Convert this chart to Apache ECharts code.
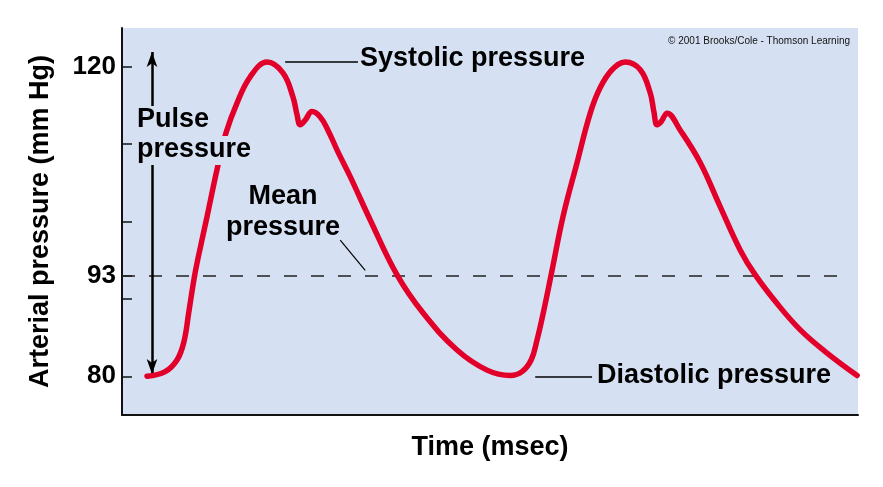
<!DOCTYPE html>
<html>
<head>
<meta charset="utf-8">
<script src="https://cdn.jsdelivr.net/npm/echarts@6/dist/echarts.min.js"></script>
<style>
html,body{margin:0;padding:0;background:#fff;}
#chart{width:883px;height:487px;}
</style>
</head>
<body>
<div id="chart"></div>
<script>
// Time (msec) and arterial pressure (mm Hg)
var timeMs = [0, 40, 66, 81, 92, 105, 119, 132, 154, 174, 198, 227, 264, 299, 321, 330, 337, 348, 363, 381, 398, 420, 447, 491, 550, 607, 682, 748, 799,
              825, 845, 858, 871, 889, 915, 946, 975, 997, 1023, 1052, 1085, 1107, 1115, 1122, 1131, 1144, 1173, 1217, 1261, 1305, 1338, 1386, 1437, 1496, 1562];
var pressure = [80.0, 80.6, 82.1, 84.4, 88.3, 93.1, 97.1, 100.6, 106.7, 111.5, 115.3, 118.7, 120.6, 119.2, 116.1, 113.8, 112.5, 113.1, 114.2, 113.5, 111.8, 109.0, 105.8, 100.2, 93.1, 88.2, 83.4, 80.8, 80.1,
                80.6, 82.1, 84.7, 88.0, 93.1, 100.6, 107.6, 114.0, 117.3, 119.6, 120.6, 119.6, 116.6, 114.2, 112.5, 112.9, 114.0, 111.8, 107.6, 101.9, 96.3, 93.1, 89.4, 86.0, 83.0, 80.1];
var yTicks = [80, 90, 93, 100, 110, 120];
var yLabels = [80, 93, 120];
var meanPressure = 93;
var systolic = 120;
var diastolic = 80;

var FONT = '"Liberation Sans", Arial, Helvetica, sans-serif';
var BG = '#d5e1f2';
var curve = timeMs.map(function (t, i) { return [t, pressure[i]]; });

var chart = echarts.init(document.getElementById('chart'), null, {renderer: 'canvas'});
var option = {
  backgroundColor: '#ffffff',
  animation: false,
  grid: {left: 122, right: 25, top: 28, bottom: 72, show: true, backgroundColor: BG, borderWidth: 0},
  xAxis: {
    type: 'value', min: -55, max: 1564,
    name: 'Time (msec)', nameLocation: 'middle', nameGap: 19,
    nameTextStyle: {fontFamily: FONT, fontWeight: 'bold', fontSize: 27, color: '#000'},
    axisLine: {show: true, onZero: false, lineStyle: {color: '#111', width: 2}},
    axisTick: {show: false}, axisLabel: {show: false}, splitLine: {show: false}
  },
  yAxis: {
    type: 'value', min: 75, max: 125,
    name: 'Arterial pressure (mm Hg)', nameLocation: 'middle', nameGap: 68, nameRotate: 90,
    nameTextStyle: {fontFamily: FONT, fontWeight: 'bold', fontSize: 27, color: '#000'},
    axisLine: {show: true, onZero: false, lineStyle: {color: '#111', width: 2}},
    axisTick: {show: true, inside: true, length: 10, customValues: yTicks, lineStyle: {color: '#111', width: 1.5}},
    axisLabel: {show: true, customValues: yLabels, margin: 6, fontFamily: FONT, fontWeight: 'bold', fontSize: 26, color: '#000'},
    splitLine: {show: false}
  },
  series: [{
    type: 'line',
    data: curve,
    smooth: 0.4,
    showSymbol: false,
    symbol: 'none',
    z: 3,
    lineStyle: {color: '#e2002b', width: 5.5, cap: 'round', join: 'round'},
    markLine: {
      silent: true,
      symbol: 'none',
      label: {show: false},
      z: 2,
      data: [
        [{coord: [-55, meanPressure], lineStyle: {type: [13, 14], color: '#222', width: 1.5}},
         {coord: [1547, meanPressure]}],
        [{coord: [11, diastolic + 0.3], symbol: 'arrow', symbolSize: [8, 15], lineStyle: {type: 'solid', color: '#000', width: 2.5}},
         {coord: [11, systolic + 1.9], symbol: 'arrow', symbolSize: [8, 15]}],
        [{coord: [304, 120.7], lineStyle: {type: 'solid', color: '#000', width: 1.5}}, {coord: [464, 120.7]}],
        [{coord: [854, 80.0], lineStyle: {type: 'solid', color: '#000', width: 1.5}}, {coord: [979, 80.0]}],
        [{coord: [425, 97.6], lineStyle: {type: 'solid', color: '#000', width: 1.2}}, {coord: [480, 93.7]}]
      ]
    }
  }],
  graphic: [
    {type: 'text', z: 100, left: 133, top: 106, style: {text: 'Pulse', font: 'bold 27px ' + FONT, fill: '#000', backgroundColor: BG, padding: [0, 4, 3, 4]}},
    {type: 'text', z: 100, left: 133, top: 136, style: {text: 'pressure', font: 'bold 27px ' + FONT, fill: '#000', backgroundColor: BG, padding: [0, 4, 2, 4]}},
    {type: 'text', z: 100, x: 283, y: 197, style: {text: 'Mean', font: 'bold 27px ' + FONT, fill: '#000', align: 'center', verticalAlign: 'middle'}},
    {type: 'text', z: 100, x: 283, y: 228, style: {text: 'pressure', font: 'bold 27px ' + FONT, fill: '#000', align: 'center', verticalAlign: 'middle'}},
    {type: 'text', z: 100, x: 360, y: 59, style: {text: 'Systolic pressure', font: 'bold 27px ' + FONT, fill: '#000', align: 'left', verticalAlign: 'middle'}},
    {type: 'text', z: 100, x: 597, y: 376, style: {text: 'Diastolic pressure', font: 'bold 27px ' + FONT, fill: '#000', align: 'left', verticalAlign: 'middle'}},
    {type: 'text', z: 100, x: 850, y: 41, style: {text: '\u00A9 2001 Brooks/Cole - Thomson Learning', font: '10px ' + FONT, fill: '#111', align: 'right', verticalAlign: 'middle'}}
  ]
};
chart.setOption(option);
</script>
</body>
</html>
